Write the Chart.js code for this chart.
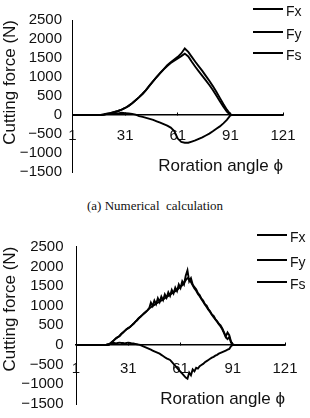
<!DOCTYPE html>
<html><head><meta charset="utf-8">
<script src="https://cdn.jsdelivr.net/npm/chart.js@4.4.1/dist/chart.umd.min.js"></script>
<style>
html,body{margin:0;padding:0;background:#fff;width:310px;height:418px;overflow:hidden;}
.wrap{position:absolute;left:0;width:310px;}
#w1{top:0;height:186px}
#w2{top:218px;height:200px}
canvas{display:block;position:absolute;left:0;top:0}
.legend{position:absolute;left:0;top:0;font-family:"Liberation Sans",Arial,sans-serif;font-size:14px;color:#111;}
.caption{position:absolute;top:198px;left:0;width:310px;text-align:center;font-family:"Liberation Serif","Times New Roman",serif;font-size:13px;line-height:16px;color:#111;}
</style></head>
<body>
<div class="wrap" id="w1"><canvas id="c1" width="310" height="186"></canvas><div class="legend" id="l1"></div></div>
<div class="caption">(a) Numerical&nbsp; calculation</div>
<div class="wrap" id="w2"><canvas id="c2" width="310" height="200"></canvas><div class="legend" id="l2"></div></div>
<script>
// ---- data ----
const seriesNames = ['Fx', 'Fy', 'Fs'];
const xTickValues = [1, 31, 61, 91, 121];
const yTickValues = [-1500, -1000, -500, 0, 500, 1000, 1500, 2000, 2500];
const xTitle = 'Roration angle \u03D5';
const yTitle = 'Cutting force (N)';

// (a) numerical calculation
const angleA = [1, 17, 19, 21, 23, 25, 27, 29, 31, 33, 35, 37, 39, 41, 43, 45, 47, 49, 51, 53, 55, 57, 59, 61, 63, 65, 67, 69, 71, 73, 75, 77, 79, 81, 83, 85, 87, 89, 91, 92, 121];
const fxA = [0, 0, 10, 30, 55, 80, 105, 140, 185, 240, 310, 390, 470, 560, 660, 780, 890, 1000, 1110, 1210, 1310, 1390, 1460, 1530, 1620, 1750, 1660, 1530, 1400, 1280, 1160, 1030, 900, 760, 610, 450, 290, 140, 20, 0, 0];
const fyA = [0, 0, 10, 30, 55, 80, 105, 140, 185, 240, 310, 390, 470, 560, 660, 780, 890, 1000, 1100, 1200, 1290, 1370, 1430, 1490, 1550, 1615, 1540, 1400, 1270, 1150, 1030, 910, 790, 660, 510, 360, 220, 90, 0, 0, 0];
const fsA = [0, 0, 20, 40, 30, 50, 40, 60, 50, 40, 30, 10, -30, -50, -75, -100, -130, -165, -200, -240, -280, -330, -420, -620, -710, -730, -730, -700, -670, -630, -590, -540, -490, -430, -360, -300, -220, -130, -10, 0, 0];

// (b) second chart
const angleB = [1,
  17, 18, 19, 20, 21, 22, 23, 24, 25, 26, 27, 28, 29, 30, 31, 32, 33, 34, 35, 36,
  37, 38, 39, 40, 41, 42, 43, 44, 45, 46, 47, 48, 49, 50, 51, 52, 53, 54, 55, 56,
  57, 58, 59, 60, 61, 62, 63, 64, 65, 66, 67, 68, 69, 70, 71, 72, 73, 74, 75, 76,
  77, 78, 79, 80, 81, 82, 83, 84, 85, 86, 87, 88, 89, 90, 91, 92, 93,
  121];
const fxB = [0,
  0, 0, 0, 10, 50, 90, 130, 170, 200, 230, 280, 320, 360, 400, 430, 460, 500, 540, 590, 630,
  680, 720, 760, 800, 840, 880, 930, 1080, 990, 1130, 1040, 1190, 1090, 1230, 1140, 1290, 1200, 1340, 1250, 1400,
  1310, 1460, 1370, 1540, 1450, 1620, 1540, 1760, 1900, 1620, 1700, 1540, 1470, 1420, 1320, 1270, 1180, 1130, 1040, 1000,
  910, 860, 780, 740, 660, 610, 540, 500, 420, 320, 220, 320, 250, 90, 20, 0, 0,
  0];
const fyB = [0,
  0, 0, 0, 10, 50, 90, 130, 170, 200, 230, 280, 320, 360, 400, 430, 460, 500, 540, 590, 630,
  680, 720, 760, 800, 840, 880, 930, 960, 990, 1020, 1050, 1080, 1100, 1130, 1160, 1190, 1220, 1250, 1280, 1310,
  1340, 1370, 1400, 1440, 1480, 1520, 1580, 1650, 1700, 1680, 1600, 1520, 1440, 1380, 1300, 1240, 1170, 1100, 1030, 970,
  900, 840, 770, 710, 650, 590, 530, 470, 400, 300, 200, 150, 200, 60, 0, 0, 0,
  0];
const fsB = [0,
  0, 0, 20, 30, 40, 50, 50, 40, 50, 60, 50, 50, 40, 50, 60, 50, 40, 40, 30, 20,
  10, 0, -20, -40, -60, -80, -100, -120, -140, -160, -180, -200, -220, -250, -280, -310, -340, -360, -380, -430,
  -480, -530, -580, -630, -680, -730, -780, -830, -860, -700, -770, -620, -670, -580, -600, -540, -510, -480, -440, -410,
  -380, -350, -320, -300, -270, -250, -220, -200, -180, -160, -140, -120, -100, -30, 0, 0, 0,
  0];

// ---- rendering ----
const SANS = '"Liberation Sans", Arial, sans-serif';

function pts(xs, ys) { return xs.map((x, i) => ({ x: x, y: ys[i] })); }
function fmt(v) { return v < 0 ? '\u2212' + Math.abs(v) : String(v); }

function makeChart(canvasId, legendId, xs, series, g) {
  const chart = new Chart(document.getElementById(canvasId), {
    type: 'line',
    data: {
      datasets: series.map((ys, i) => ({
        label: seriesNames[i], data: pts(xs, ys),
        borderColor: '#000', borderWidth: 1.9, pointRadius: 0, tension: 0, fill: false
      }))
    },
    options: {
      responsive: false, animation: false,
      layout: { padding: { left: 0, right: g.padRight, top: g.padTop, bottom: g.padBottom } },
      plugins: { legend: { display: false }, tooltip: { enabled: false } },
      scales: {
        x: {
          type: 'linear', min: 1, max: 121, position: { y: 0 },
          afterBuildTicks: s => { s.ticks = xTickValues.map(v => ({ value: v })); },
          afterFit: s => { s.height = g.xAxisH; s.paddingLeft = 0; s.paddingRight = 0; },
          grid: { display: true, drawOnChartArea: false, drawTicks: true, tickLength: -3, tickColor: '#000', tickWidth: 1 },
          border: { display: true, color: '#000', width: 1.5 },
          ticks: { padding: g.xTickPad + 3, color: '#111', font: { family: SANS, size: 15 }, maxRotation: 0, autoSkip: false, callback: v => fmt(v) },
          title: { display: true, text: xTitle, align: 'end', color: '#111', font: { family: SANS, size: 17 }, padding: { top: 0, bottom: 0 } }
        },
        y: {
          type: 'linear', min: -1500, max: 2500,
          afterBuildTicks: s => { s.ticks = yTickValues.map(v => ({ value: v })); },
          afterFit: s => { s.width = g.yWidth; s.paddingTop = 0; s.paddingBottom = 0; },
          grid: { display: false, drawTicks: false },
          border: { display: true, color: '#000', width: 1 },
          ticks: { padding: g.yTickPad, color: '#111', font: { family: SANS, size: 15 }, autoSkip: false, callback: v => fmt(v) },
          title: { display: true, text: yTitle, align: 'end', color: '#111', font: { family: SANS, size: 17 }, padding: { top: 0, bottom: 0 } }
        }
      }
    }
  });
  const el = document.getElementById(legendId);
  const ca = chart.chartArea;
  chart.data.datasets.forEach((ds, i) => {
    const y = Math.round(g.legendY[i]);
    const line = document.createElement('div');
    line.style.cssText = 'position:absolute;left:' + Math.round(ca.right + g.legendDx - 30) + 'px;top:' + (y - 1) + 'px;width:30px;height:1.5px;background:#000';
    const txt = document.createElement('div');
    txt.textContent = ds.label;
    txt.style.cssText = 'position:absolute;left:' + Math.round(ca.right + g.legendDx + 3) + 'px;top:' + (y + 2 - 9) + 'px;line-height:18px;white-space:nowrap';
    el.appendChild(line); el.appendChild(txt);
  });
  return chart;
}

makeChart('c1', 'l1', angleA, [fxA, fyA, fsA], {
  padTop: 20, padBottom: 14, padRight: 27, yWidth: 72.5, yTickPad: 10.5, xTickPad: 12, xAxisH: 61.5,
  legendY: [9.3, 32.3, 53.3], legendDx: 0
});
makeChart('c2', 'l2', angleB, [fxB, fyB, fsB], {
  padTop: 28.7, padBottom: 14, padRight: 25, yWidth: 76, yTickPad: 12.5, xTickPad: 15, xAxisH: 64,
  legendY: [17, 42, 63.7], legendDx: 2
});
</script>
</body></html>
